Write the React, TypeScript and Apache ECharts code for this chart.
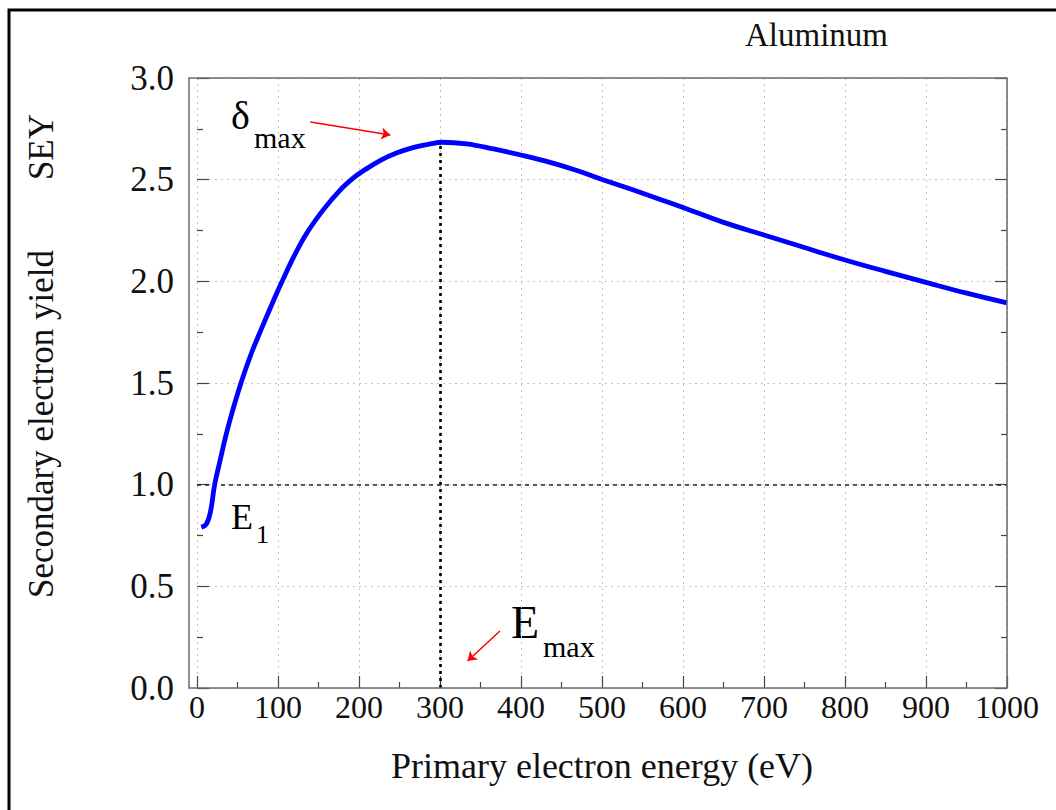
import React, { useEffect, useRef } from "react";
import * as echarts from "echarts";

// Primary electron energy (eV) and secondary electron yield
const energy = [5.4, 11.6, 16.5, 21.8, 28, 36.2, 44.4, 54.7, 67, 79.4, 91.7, 104, 120, 136, 156.6, 177, 193.5, 204, 226.5, 247, 267.7, 288, 302.5, 333, 366, 401, 436, 469, 501, 538, 571, 600, 650, 700, 750, 800, 850, 900, 949, 1000];
const sey = [0.79, 0.807, 0.864, 1.0, 1.11, 1.25, 1.37, 1.505, 1.645, 1.765, 1.88, 1.99, 2.125, 2.24, 2.355, 2.45, 2.51, 2.54, 2.595, 2.632, 2.659, 2.676, 2.684, 2.676, 2.651, 2.62, 2.585, 2.545, 2.5, 2.45, 2.404, 2.363, 2.29, 2.228, 2.166, 2.105, 2.049, 1.995, 1.943, 1.894];

const xRange = [0, 1000];
const xStep = 100;
const yRange = [0, 3];
const yStep = 0.5;

const peak = [300, 2.684]; // E_max, delta_max
const unityYield = 1.0;
const deltaArrow = [[140, 2.784], [238.7, 2.72]];
const emaxArrow = [[374, 0.28], [334, 0.133]];

const xTitle = "Primary electron energy (eV)";
const yTitle = "Secondary electron yield" + "\u00a0".repeat(8) + "SEY";
const material = "Aluminum";

export default function App() {
  const ref = useRef<HTMLDivElement>(null);
  useEffect(() => {
    const chart = echarts.init(ref.current!, null, { renderer: "svg" });
    const font = "'Liberation Serif', 'Times New Roman', serif";
    const L = 197, R = 1007, T = 78, B = 688, BOXL = 189;
    const tickCol = "#444";
    const gridLine = { show: true, lineStyle: { color: "#cdc6a6", type: [2, 4], width: 1 } };
    chart.setOption({
      animation: false,
      backgroundColor: "#ffffff",
      grid: { left: L, top: T, width: R - L, height: B - T, containLabel: false },
      xAxis: {
        type: "value",
        min: xRange[0],
        max: xRange[1],
        interval: xStep,
        axisLine: { show: false },
        axisTick: { inside: true, length: 12, lineStyle: { color: tickCol, width: 1.2 } },
        minorTick: { show: true, splitNumber: 2, length: 6, lineStyle: { color: tickCol, width: 1.2 } },
        axisLabel: { margin: 3, fontFamily: font, fontSize: 32, color: "#111", formatter: (v: number) => String(v) },
        splitLine: gridLine,
        name: xTitle,
        nameLocation: "middle",
        nameGap: 60,
        nameTextStyle: { fontFamily: font, fontSize: 36, color: "#111" },
      },
      yAxis: [
        {
          type: "value",
          min: yRange[0],
          max: yRange[1],
          interval: yStep,
          position: "left",
          offset: L - BOXL,
          axisLine: { show: false },
          axisTick: { inside: true, length: 12, lineStyle: { color: tickCol, width: 1.2 } },
          minorTick: { show: true, splitNumber: 2, length: 6, lineStyle: { color: tickCol, width: 1.2 } },
          axisLabel: { margin: 15, fontFamily: font, fontSize: 35, color: "#111", formatter: (v: number) => v.toFixed(1) },
          splitLine: gridLine,
        },
        {
          type: "value",
          min: yRange[0],
          max: yRange[1],
          interval: yStep,
          position: "right",
          axisLine: { show: false },
          axisTick: { inside: true, length: 12, lineStyle: { color: tickCol, width: 1.2 } },
          minorTick: { show: true, splitNumber: 2, length: 6, lineStyle: { color: tickCol, width: 1.2 } },
          axisLabel: { show: false },
          splitLine: { show: false },
        },
      ],
      series: [
        {
          type: "line",
          data: energy.map((e, i) => [e, sey[i]]),
          symbol: "none",
          showSymbol: false,
          smooth: 0.4,
          lineStyle: { color: "#0000ff", width: 4.8 },
          z: 5,
          markLine: {
            silent: true,
            animation: false,
            symbol: ["none", "none"],
            symbolSize: 9,
            label: { show: false },
            emphasis: { disabled: true },
            data: [
              [
                { coord: [peak[0], 0], lineStyle: { color: "#000", width: 2.6, type: [3, 4] } },
                { coord: [peak[0], peak[1]] },
              ],
              [
                { coord: [xRange[0], unityYield], lineStyle: { color: "#222", width: 1.5, type: [4, 4] } },
                { coord: [xRange[1], unityYield] },
              ],
              [
                { coord: deltaArrow[0], symbol: "none", lineStyle: { color: "#ff0000", width: 1.5, type: "solid" } },
                { coord: deltaArrow[1], symbol: "arrow" },
              ],
              [
                { coord: emaxArrow[0], symbol: "none", lineStyle: { color: "#ff0000", width: 1.5, type: "solid" } },
                { coord: emaxArrow[1], symbol: "arrow" },
              ],
            ],
          },
        },
      ],
      graphic: [
        { type: "rect", silent: true, shape: { x: 9, y: 10, width: 1080, height: 840 }, style: { fill: "none", stroke: "#000", lineWidth: 3 } },
        { type: "rect", silent: true, z: 10, shape: { x: BOXL, y: T, width: R - BOXL, height: B - T }, style: { fill: "none", stroke: "#6a6a6a", lineWidth: 1.5 } },
        { type: "text", silent: true, x: 745, y: 35, style: { text: material, font: `33px ${font}`, fill: "#111", align: "left", verticalAlign: "middle" } },
        { type: "text", silent: true, x: 41, y: 356, rotation: Math.PI / 2, style: { text: yTitle, font: `35px ${font}`, fill: "#111", align: "center", verticalAlign: "middle" } },
        { type: "text", silent: true, x: 231, y: 115, style: { text: "δ", font: `40px ${font}`, fill: "#000", align: "left", verticalAlign: "middle" } },
        { type: "text", silent: true, x: 254, y: 137, style: { text: "max", font: `30px ${font}`, fill: "#000", align: "left", verticalAlign: "middle" } },
        { type: "text", silent: true, x: 231, y: 517, style: { text: "E", font: `36px ${font}`, fill: "#000", align: "left", verticalAlign: "middle" } },
        { type: "text", silent: true, x: 256, y: 534, style: { text: "1", font: `26px ${font}`, fill: "#000", align: "left", verticalAlign: "middle" } },
        { type: "text", silent: true, x: 511, y: 622, style: { text: "E", font: `46px ${font}`, fill: "#000", align: "left", verticalAlign: "middle" } },
        { type: "text", silent: true, x: 543, y: 646, style: { text: "max", font: `30px ${font}`, fill: "#000", align: "left", verticalAlign: "middle" } },
      ],
    });
    return () => chart.dispose();
  }, []);
  return <div ref={ref} style={{ position: "fixed", left: 0, top: 0, width: 1056, height: 810, background: "#fff" }} />;
}
